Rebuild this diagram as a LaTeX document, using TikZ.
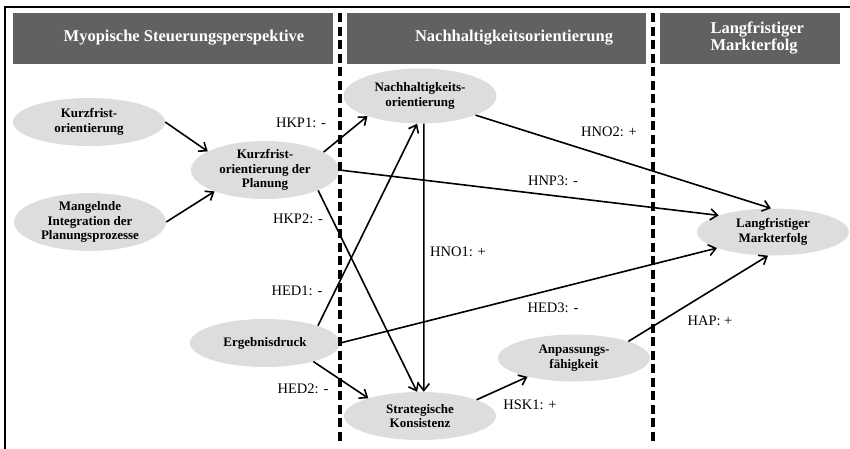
\documentclass[tikz,border=0pt]{standalone}
\usepackage{fontspec}
\setmainfont{Liberation Serif}
\usetikzlibrary{positioning, arrows.meta, shapes.geometric}
\definecolor{barGray}{RGB}{97,97,97}
\definecolor{ovalGray}{RGB}{221,221,222}
\tikzset{
  oval/.style={ellipse, fill=ovalGray, inner sep=0pt, minimum width=152pt, minimum height=48pt, align=center, font=\fontsize{13}{14.5}\selectfont\bfseries},
  bar/.style={fill=barGray},
  bartext/.style={text=white, font=\fontsize{16.5}{17}\selectfont\bfseries},
  hyp/.style={font=\fontsize{14.5}{16}\selectfont},
  link/.style={line width=1.6pt, -{Straight Barb[length=7pt,width=11pt]}},
  divider/.style={line width=3.5pt, dash pattern=on 9pt off 4.5pt}
}

\begin{document}
\begin{tikzpicture}[x=1pt,y=-1pt]
    \useasboundingbox (0,0) rectangle (850,448);
    \clip (0,0) rectangle (850,448);
    \draw[line width=1.5pt] (5,7) rectangle (856,452);
    \fill[bar] (13,13) rectangle (333,64);
    \fill[bar] (347,13) rectangle (646,64);
    \fill[bar] (660,13) rectangle (840,64);
    \node[bartext] (hMyo) at (184,38) {Myopische Steuerungsperspektive};
    \node[bartext] (hNach) at (514,38) {Nachhaltigkeitsorientierung};
    \node[bartext, align=left, anchor=west] (hMarkt) at (707,38) {Langfristiger\\Markterfolg};

    \node[oval] (KO) at (89,122) {Kurzfrist-\\orientierung};
    \node[oval, minimum height=51pt] (MI) at (90,222) {Mangelnde\\Integration der\\Planungsprozesse};
    \node[oval, minimum width=148pt, minimum height=50pt] (KP) at (265,170) {Kurzfrist-\\orientierung der\\Planung};
    \node[oval, minimum width=153pt, minimum height=55pt] (NO) at (420,96) {Nachhaltigkeits-\\orientierung};
    \node[oval, minimum width=150pt] (ED) at (265,343) {Ergebnisdruck};
    \node[oval] (SK) at (420,416) {Strategische\\Konsistenz};
    \node[oval, minimum height=47pt] (AF) at (574,358) {Anpassungs-\\fähigkeit};
    \node[oval, minimum height=47pt] (LM) at (773,232) {Langfristiger\\Markterfolg};

    \draw[divider] (340,13) -- (340,441);
    \draw[divider] (653,13) -- (653,441);

    \draw[link] (KO.east) -- (KP.162);
    \draw[link] (MI.east) -- (KP.203);
    \draw[link] (KP.17) -- (NO.201);
    \draw[link] (KP.339) -- (SK.97);
    \draw[link] (KP.east) -- (LM.163);
    \draw[link] (NO.341) -- (LM.95);
    \draw[link] (NO.278) -- (SK.81);
    \draw[link] (ED.18) -- (NO.264);
    \draw[link] (ED.east) -- (LM.196);
    \draw[link] (ED.339) -- (SK.161);
    \draw[link] (SK.16) -- (AF.202);
    \draw[link] (AF.17) -- (LM.258);

    \foreach \nm/\px/\py/\sg in {HKP1/301/123/-, HKP2/298/219/-, HED1/297/291/-, HED2/303/389/-, HNO1/458/252/+, HNP3/553/181/-, HNO2/609/132/+, HED3/553/308/-, HSK1/530/405/+, HAP/710/321/+}{
        \node[hyp] (l\nm) at (\px,\py) {\nm: \sg};
    }
\end{tikzpicture}
\end{document}
